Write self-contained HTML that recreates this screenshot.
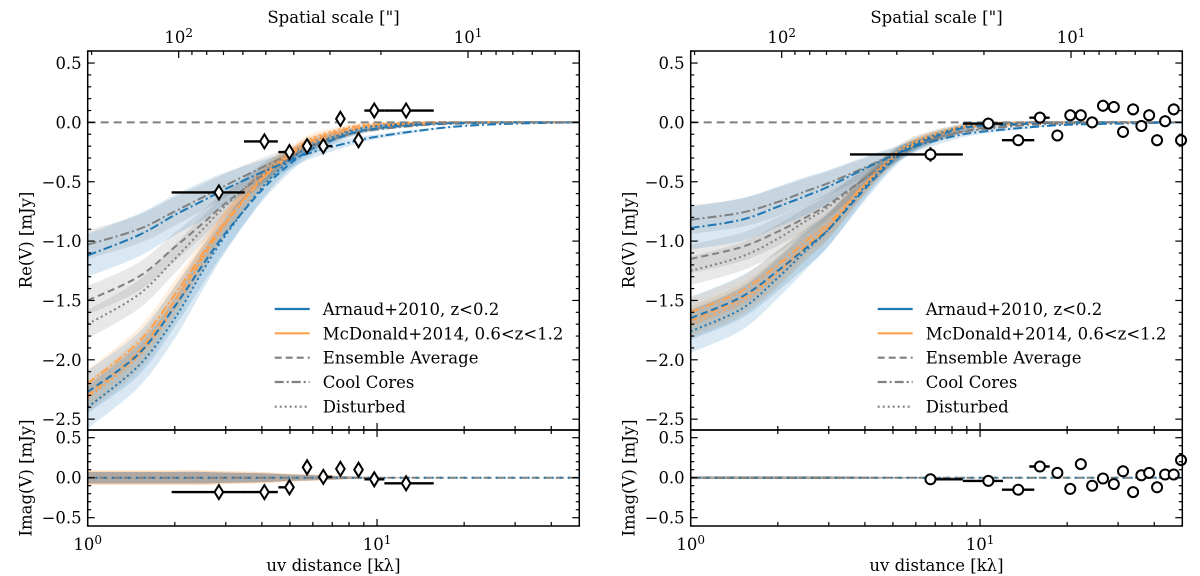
<!DOCTYPE html>
<html><head><meta charset="utf-8"><style>
html,body{margin:0;padding:0;background:#fff;}
svg{display:block;font-family:"DejaVu Serif","Liberation Serif",serif;}
</style></head><body>
<svg id="chart" width="1200" height="576" viewBox="0 0 1200 576" xmlns="http://www.w3.org/2000/svg"></svg>
<script>
// ---- data ----
const uvGrid = [1,1.5,2,2.5,3,4,5,6,8,10,15,20,30,50];
// left panel models
const L_blueEns  = [-2.27,-1.95,-1.55,-1.2,-0.93,-0.57,-0.35,-0.22,-0.1,-0.05,-0.015,-0.005,0,0];
const L_blueCC   = [-1.12,-0.95,-0.78,-0.66,-0.56,-0.42,-0.32,-0.25,-0.17,-0.12,-0.06,-0.03,-0.01,0];
const L_blueDis  = [-2.4,-2.05,-1.65,-1.25,-0.95,-0.55,-0.32,-0.19,-0.08,-0.03,-0.01,0,0,0];
const L_orEns    = [-2.3,-1.93,-1.5,-1.13,-0.85,-0.48,-0.27,-0.15,-0.05,-0.02,0,0,0,0];
const L_orCC     = [-2.2,-1.85,-1.45,-1.1,-0.83,-0.48,-0.28,-0.17,-0.07,-0.03,-0.01,0,0,0];
const L_orDis    = [-2.32,-1.97,-1.55,-1.15,-0.85,-0.46,-0.25,-0.13,-0.04,-0.01,0,0,0,0];
const L_grEns    = [-1.5,-1.3,-1.05,-0.85,-0.68,-0.45,-0.3,-0.2,-0.1,-0.05,-0.01,0,0,0];
const L_grCC     = [-1.03,-0.9,-0.75,-0.63,-0.53,-0.38,-0.27,-0.19,-0.1,-0.06,-0.02,-0.01,0,0];
const L_grDis    = [-1.7,-1.45,-1.15,-0.9,-0.7,-0.43,-0.27,-0.16,-0.07,-0.03,0,0,0,0];
// right panel models
const R_blueEns  = [-1.65,-1.47,-1.25,-1.06,-0.9,-0.56,-0.32,-0.19,-0.07,-0.03,-0.01,0,0,0];
const R_blueCC   = [-0.89,-0.82,-0.71,-0.62,-0.54,-0.39,-0.28,-0.2,-0.12,-0.08,-0.04,-0.02,-0.01,0];
const R_blueDis  = [-1.76,-1.57,-1.31,-1.08,-0.9,-0.54,-0.3,-0.17,-0.06,-0.02,0,0,0,0];
const R_orEns    = [-1.67,-1.48,-1.25,-1.04,-0.88,-0.53,-0.3,-0.17,-0.06,-0.02,0,0,0,0];
const R_orCC     = [-1.6,-1.42,-1.2,-1.0,-0.85,-0.52,-0.3,-0.18,-0.07,-0.03,-0.01,0,0,0];
const R_orDis    = [-1.7,-1.51,-1.27,-1.05,-0.88,-0.52,-0.28,-0.15,-0.05,-0.01,0,0,0,0];
const R_grEns    = [-1.15,-1.05,-0.92,-0.8,-0.69,-0.47,-0.31,-0.2,-0.1,-0.05,-0.01,0,0,0];
const R_grCC     = [-0.82,-0.76,-0.67,-0.58,-0.51,-0.38,-0.27,-0.19,-0.1,-0.06,-0.02,-0.01,0,0];
const R_grDis    = [-1.25,-1.13,-0.98,-0.83,-0.71,-0.47,-0.3,-0.18,-0.08,-0.03,0,0,0,0];
const bandBlue   = [0.18,0.18,0.17,0.16,0.14,0.1,0.07,0.05,0.03,0.02,0.01,0,0,0];
const bandOther  = [0.12,0.12,0.12,0.11,0.1,0.08,0.05,0.04,0.02,0.01,0,0,0,0];
const imagBandL  = [0.09,0.09,0.09,0.09,0.08,0.07,0.05,0.04,0.02,0.01,0,0,0,0];
const imagBandR  = [0.02,0.02,0.02,0.02,0.02,0.015,0.01,0.01,0.005,0,0,0,0,0];
// left observations
const L_uv   = [2.84,4.08,4.98,5.73,6.52,7.47,8.63,9.78,12.6];
const L_re   = [-0.59,-0.16,-0.25,-0.2,-0.2,0.03,-0.15,0.1,0.1];
const L_im   = [-0.18,-0.18,-0.12,0.13,0.01,0.11,0.1,-0.02,-0.07];
const L_xlo  = [1.95,3.47,4.56,5.73,6.52,7.47,8.63,9.04,10.6];
const L_xhi  = [3.49,4.54,5.18,5.73,7.0,7.47,8.63,10.6,15.7];
const L_err  = [0.06,0.06,0.06,0.06,0.06,0.06,0.06,0.05,0.05];
// right observations
const R_uv   = [6.74,10.68,13.55,16.1,18.5,20.5,22.3,24.4,26.6,29.0,31.2,33.8,36.1,38.4,40.9,43.6,46.7,49.5];
const R_re   = [-0.27,-0.01,-0.15,0.04,-0.11,0.06,0.06,0,0.14,0.13,-0.08,0.11,-0.03,0.06,-0.15,0.01,0.11,-0.15];
const R_im   = [-0.02,-0.04,-0.15,0.14,0.06,-0.14,0.17,-0.1,-0.01,-0.08,0.08,-0.18,0.03,0.06,-0.12,0.04,0.04,0.22];
const R_xlo  = [3.55,8.72,11.9,14.8,18.5,20.5,22.3,24.4,26.6,29.0,31.2,33.8,36.1,38.4,40.9,43.6,46.7,49.5];
const R_xhi  = [8.72,12.0,15.4,17.4,18.5,20.5,22.3,24.4,26.6,29.0,31.2,33.8,36.1,38.4,40.9,43.6,46.7,49.5];
const R_ixlo = [6.74,8.72,11.9,14.8,18.5,20.5,22.3,24.4,26.6,29.0,31.2,33.8,36.1,38.4,40.9,43.6,46.7,49.5];
const R_err  = [0.06,0.05,0.05,0.05,0.05,0.05,0.05,0.05,0.05,0.05,0.05,0.05,0.05,0.05,0.05,0.05,0.05,0.05];
const yTicksMain = [0.5,0.0,-0.5,-1.0,-1.5,-2.0,-2.5];
const yTicksImag = [0.5,0.0,-0.5];
const topTicks = [100,10];
const legendLabels = ["Arnaud+2010, z<0.2","McDonald+2014, 0.6<z<1.2","Ensemble Average","Cool Cores","Disturbed"];

// ---- drawing ----
const NS="http://www.w3.org/2000/svg";
const svg=document.getElementById('chart');
const FS=16.5;
function mk(tag,attrs,parent){const e=document.createElementNS(NS,tag);for(const k in attrs)e.setAttribute(k,attrs[k]);(parent||svg).appendChild(e);return e;}
function fmt(v){return (v<0?'\u2212':'')+Math.abs(v).toFixed(1);}
const BLUE='#1f77b4',ORANGE='#ffa24f',GRAY='#808080';
const dashes={ens:'7,4',cc:'9,3,2,3',dis:'2,3'};

function panel(ox,pre,models,obs,marker,imBand){
  const x0=ox,x1=ox+491.6;
  const X=u=>x0+(x1-x0)*Math.log10(u)/Math.log10(50);
  const Y=v=>122.4-(v)*118.7;
  const Yi=v=>477.7-(v)*80;
  const top=51,mid=430,bot=526;
  const g=mk('g',{});
  
  
  const cid=pre+'clip',cid2=pre+'clip2';
  const defs=mk('defs',{},g);
  const c1=mk('clipPath',{id:cid},defs);mk('rect',{x:x0,y:top,width:x1-x0,height:mid-top},c1);
  const c2=mk('clipPath',{id:cid2},defs);mk('rect',{x:x0,y:mid,width:x1-x0,height:bot-mid},c2);
  const gm=mk('g',{'clip-path':`url(#${cid})`},g);
  const gi=mk('g',{'clip-path':`url(#${cid2})`},g);
  function smooth(pts){let d=`M${pts[0][0]},${pts[0][1]}`;for(let i=0;i<pts.length-1;i++){const p0=pts[Math.max(0,i-1)],p1=pts[i],p2=pts[i+1],p3=pts[Math.min(pts.length-1,i+2)];d+=` C${p1[0]+(p2[0]-p0[0])/6},${p1[1]+(p2[1]-p0[1])/6} ${p2[0]-(p3[0]-p1[0])/6},${p2[1]-(p3[1]-p1[1])/6} ${p2[0]},${p2[1]}`;}return d;}
  function band(vals,w,fill,yf,parent,name){
    const up=uvGrid.map((u,i)=>[X(u),yf(vals[i]+w[i])]);
    const lo=uvGrid.map((u,i)=>[X(u),yf(vals[i]-w[i])]).reverse();
    let d=smooth(up)+' L'+smooth(lo).slice(1)+' Z';
    const p=mk('path',{d:d,fill:fill,stroke:'none'},parent);
    
    
  }
  function line(vals,color,dash,yf,parent,name){
    const p=mk('path',{d:smooth(uvGrid.map((u,i)=>[X(u),yf(vals[i])])),fill:'none',stroke:color,'stroke-width':2,'stroke-dasharray':dash},parent);
    
    
  }
  const groups=[['gray',GRAY,'rgba(128,128,128,0.18)',bandOther],['orange',ORANGE,'rgba(255,140,40,0.14)',bandOther],['blue',BLUE,'rgba(31,119,180,0.17)',bandBlue]];
  groups.forEach(([k,col,fill,bw])=>{['ens','cc','dis'].forEach(t=>band(models[k][t],bw,fill,Y,gm,`${k}-${t}-band`));});
  groups.forEach(([k,col])=>{['ens','cc','dis'].forEach(t=>line(models[k][t],col,dashes[t],Y,gm,`${k}-${t}-line`));});
  const zl=mk('line',{x1:x0,x2:x1,y1:Y(0),y2:Y(0),stroke:GRAY,'stroke-width':2,'stroke-dasharray':'8,5'},gm);
  
  
  const zeros=uvGrid.map(()=>0);
  band(zeros,imBand,'rgba(255,140,40,0.3)',Yi,gi,'imag-orange-band');
  band(zeros,imBand.map(v=>v*0.8),'rgba(110,125,140,0.55)',Yi,gi,'imag-gray-band');
  line(zeros,GRAY,'8,4',Yi,gi,'imag-gray-line');
  line(zeros,BLUE,'2,6',Yi,gi,'imag-blue-line');
  function pts(vals,yf,parent,name,errs,xlo){
    obs.uv.forEach((u,i)=>{
      const cx=X(u),cy=yf(vals[i]);
      if(obs.xhi[i]>xlo[i]){const l=mk('line',{x1:X(xlo[i]),x2:X(obs.xhi[i]),y1:cy,y2:cy,stroke:'#000','stroke-width':2.4},parent);
        
        }
      if(errs){const l=mk('line',{x1:cx,x2:cx,y1:yf(vals[i]+errs[i]),y2:yf(vals[i]-errs[i]),stroke:'#000','stroke-width':2.4},parent);
        
        }
      let m;
      if(marker==='d') m=mk('path',{d:`M${cx},${cy-7} L${cx+4.3},${cy} L${cx},${cy+7} L${cx-4.3},${cy} Z`,fill:'#fff',stroke:'#000','stroke-width':2},parent);
      else m=mk('circle',{cx:cx,cy:cy,r:5,fill:'#fff',stroke:'#000','stroke-width':2},parent);
      
      
    });
  }
  pts(obs.re,Y,g,'real-data',obs.err,obs.xlo);
  pts(obs.im,Yi,g,'imag-data',null,obs.ixlo);
  [[top,mid],[mid,bot]].forEach(([a,b])=>{const r=mk('rect',{x:x0,y:a,width:x1-x0,height:b-a,fill:'none',stroke:'#000','stroke-width':1.5},g);
    
    });
  const tg=mk('g',{stroke:'#000','stroke-width':1.2},g);
  for(let dec=1;dec<=10;dec*=10){for(let k=1;k<=9;k++){const u=k*dec;if(u>50)break;const x=X(u);const L=(k===1)?7:4;
    [[mid,-1],[bot,-1],[mid,1]].forEach(([yy,s])=>mk('line',{x1:x,x2:x,y1:yy,y2:yy+s*L},tg));
  }}
  [200,100,90,80,70,60,50,40,30,20,10,9,8,7,6,5].forEach(a=>{const u=206.265/a;if(u<1||u>50)return;const x=X(u);const L=(a===100||a===10)?7:4;mk('line',{x1:x,x2:x,y1:top,y2:top+L},tg);});
  topTicks.forEach((a,i)=>{const t=mk('text',{x:X(206.265/a),y:43,'text-anchor':'middle','font-size':FS,fill:'#000'},g);
    t.innerHTML='10<tspan dy="-6" font-size="12">'+(a===100?2:1)+'</tspan>';
    
    });
  for(let v=-25;v<=6;v++){const y=Y(v/10);const L=(v%5===0)?7:3.5;mk('line',{x1:x0,x2:x0+L,y1:y,y2:y},tg);mk('line',{x1:x1,x2:x1-L,y1:y,y2:y},tg);}
  for(let v=-5;v<=5;v++){const y=Yi(v/10);const L=(v%5===0)?7:3.5;mk('line',{x1:x0,x2:x0+L,y1:y,y2:y},tg);mk('line',{x1:x1,x2:x1-L,y1:y,y2:y},tg);}
  yTicksMain.forEach(v=>{const t=mk('text',{x:x0-6,y:Y(v)+6,'text-anchor':'end','font-size':FS},g);t.textContent=fmt(v);
    
    });
  yTicksImag.forEach(v=>{const t=mk('text',{x:x0-6,y:Yi(v)+6,'text-anchor':'end','font-size':FS},g);t.textContent=fmt(v);
    
    });
  [[1,'0'],[10,'1']].forEach(([u,e])=>{const t=mk('text',{x:X(u),y:550,'text-anchor':'middle','font-size':FS},g);
    t.innerHTML='10<tspan dy="-6" font-size="12">'+e+'</tspan>';
    
    });
  const cx=(x0+x1)/2;
  let t=mk('text',{x:cx,y:571,'text-anchor':'middle','font-size':FS},g);t.textContent='uv distance [k\u03bb]';
  
  
  t=mk('text',{x:cx,y:23,'text-anchor':'middle','font-size':FS},g);t.textContent='Spatial scale ["]';
  
  
  t=mk('text',{x:0,y:0,'text-anchor':'middle','font-size':FS,transform:`translate(${x0-56},240) rotate(-90)`},g);t.textContent='Re(V) [mJy]';
  
  
  t=mk('text',{x:0,y:0,'text-anchor':'middle','font-size':FS,transform:`translate(${x0-56},478) rotate(-90)`},g);t.textContent='Imag(V) [mJy]';
  
  
  const lx=x0+187,ly=[309,333.3,357.7,382,406.7];
  const legStyle=[[BLUE,'none'],[ORANGE,'none'],[GRAY,'7,4'],[GRAY,'9,3,2,3'],[GRAY,'2,3']];
  legendLabels.forEach((lab,i)=>{
    const lg=mk('g',{},g);
    
    
    mk('line',{x1:lx,x2:lx+35,y1:ly[i],y2:ly[i],stroke:legStyle[i][0],'stroke-width':2.2,'stroke-dasharray':legStyle[i][1]},lg);
    const tt=mk('text',{x:lx+48,y:ly[i]+6,'font-size':FS},lg);tt.textContent=lab;
  });
}
panel(87.7,'left',
  {blue:{ens:L_blueEns,cc:L_blueCC,dis:L_blueDis},orange:{ens:L_orEns,cc:L_orCC,dis:L_orDis},gray:{ens:L_grEns,cc:L_grCC,dis:L_grDis}},
  {uv:L_uv,re:L_re,im:L_im,xlo:L_xlo,ixlo:L_xlo,xhi:L_xhi,err:L_err},'d',imagBandL);
panel(690.7,'right',
  {blue:{ens:R_blueEns,cc:R_blueCC,dis:R_blueDis},orange:{ens:R_orEns,cc:R_orCC,dis:R_orDis},gray:{ens:R_grEns,cc:R_grCC,dis:R_grDis}},
  {uv:R_uv,re:R_re,im:R_im,xlo:R_xlo,ixlo:R_ixlo,xhi:R_xhi,err:R_err},'o',imagBandR);
</script>
</body></html>
